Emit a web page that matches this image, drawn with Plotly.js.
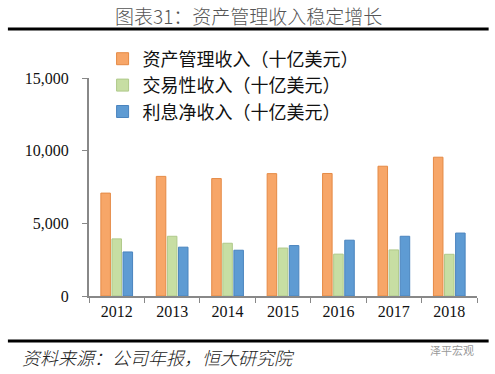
<!DOCTYPE html>
<html><head><meta charset="utf-8">
<script src="https://cdn.plot.ly/plotly-3.0.1.min.js"></script>
<style>html,body{margin:0;padding:0;background:#fff;}#chart{width:495px;height:374px;}</style>
</head><body><div id="chart"></div>
<script>
const years = ['2012','2013','2014','2015','2016','2017','2018'];
const assetMgmt = [7080, 8230, 8080, 8420, 8430, 8930, 9550];
const trading = [3930, 4110, 3630, 3300, 2880, 3170, 2870];
const netInterest = [3030, 3360, 3150, 3470, 3840, 4110, 4330];
const seriesNames = ['资产管理收入（十亿美元）','交易性收入（十亿美元）','利息净收入（十亿美元）'];
const tickVals = [0, 5000, 10000, 15000];
const tickText = ['0','5,000','10,000','15,000'];

const colors = ['#F7A668','#C7DEA3','#5E9BD3'];
const borders = ['#E58A45','#AFC98A','#4A84BE'];
const data = [assetMgmt, trading, netInterest].map((v,i)=>({
  type:'bar', x: years, y: v, name: seriesNames[i],
  marker:{color: colors[i], line:{color: borders[i], width:1}},
  legendgroup:'g'+i
}));

const layout = {
  width:495, height:374,
  margin:{l:89, r:18, t:78, b:78},
  paper_bgcolor:'#fff', plot_bgcolor:'#fff',
  barmode:'group', bargap:0.4, bargroupgap:0.14,
  showlegend:true,
  legend:{x:0.035, xanchor:'left', y:1.172, yanchor:'top', bgcolor:'rgba(0,0,0,0)',
    font:{family:'Noto Sans CJK SC', size:18, color:'#111'}, tracegroupgap:0, itemwidth:30},
  xaxis:{type:'category', showline:true, linecolor:'#888', linewidth:2,
    ticks:'outside', ticklen:5, tickcolor:'#888', tickson:'boundaries',
    tickfont:{family:'Liberation Serif', size:16, color:'#111'}, showgrid:false},
  yaxis:{range:[0,15000], tickvals:tickVals, ticktext:tickText, showline:true, linecolor:'#888', linewidth:2,
    ticks:'outside', ticklen:5, tickcolor:'#888', ticklabelstandoff:10, showgrid:false, zeroline:false,
    tickfont:{family:'Liberation Serif', size:16, color:'#111'}},
  shapes:[
    {type:'line', xref:'paper', yref:'paper', x0:-0.209, x1:1.03, y0:(296-29)/218, y1:(296-29)/218, line:{color:'#000', width:3}},
    {type:'line', xref:'paper', yref:'paper', x0:-0.209, x1:1.03, y0:(296-341)/218, y1:(296-341)/218, line:{color:'#000', width:3}}
  ],
  annotations:[
    {text:'图表31：资产管理收入稳定增长', xref:'paper', yref:'paper', x:(248-89)/388, y:(296-15)/218, xanchor:'center', yanchor:'middle', showarrow:false,
      font:{family:'Noto Sans CJK SC', size:19, color:'#555', weight:300}},
    {text:'<i>资料来源：公司年报，恒大研究院</i>', xref:'paper', yref:'paper', x:(20-89)/388, y:(296-357)/218, xanchor:'left', yanchor:'middle', showarrow:false,
      font:{family:'Noto Sans CJK SC', size:18, color:'#222', weight:300}},
    {text:'泽平宏观', xref:'paper', yref:'paper', x:(428-89)/388, y:(296-350)/218, xanchor:'left', yanchor:'middle', showarrow:false,
      font:{family:'Noto Sans CJK SC', size:11, color:'#999'}}
  ]
};
Plotly.newPlot('chart', data, layout, {displayModeBar:false, staticPlot:true});
</script></body></html>
